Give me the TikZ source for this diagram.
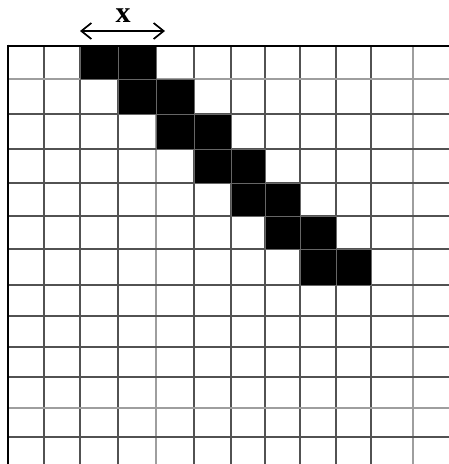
\documentclass[tikz,border=0pt]{standalone}
\usepackage{fontspec}
\setmainfont{Liberation Serif}
\usetikzlibrary{arrows.meta}

\begin{document}
\begin{tikzpicture}[
  x=1pt, y=-1pt,
  gridline/.style={line width=1.7pt,draw=black!68},
  lightline/.style={line width=1.7pt,draw=black!38},
  border/.style={line width=2.6pt,draw=black},
  cell/.style={fill=black,draw=black!60,line width=0.8pt},
  every node/.style={inner sep=0pt,font=\fontsize{30}{30}\selectfont\bfseries}
]
\useasboundingbox (0,0) rectangle (449,464);
% grid
\foreach \xx in {44,80,118,194,231,265,300,336,371}
  \draw[gridline] (\xx,46) -- (\xx,464);
\foreach \xx in {156,413}
  \draw[lightline] (\xx,46) -- (\xx,464);
\foreach \yy in {114,149,183,216,249,285,316,347,377,437}
  \draw[gridline] (8,\yy) -- (449,\yy);
\foreach \yy in {79,408}
  \draw[lightline] (8,\yy) -- (449,\yy);
% filled pixels
\foreach \xa/\xb/\xc/\ya/\yb in {80/118/156/46/79, 118/156/194/79/114, 156/194/231/114/149,
    194/231/265/149/183, 231/265/300/183/216, 265/300/336/216/249, 300/336/371/249/285}
{
  \draw[cell] (\xa,\ya) rectangle (\xb,\yb);
  \draw[cell] (\xb,\ya) rectangle (\xc,\yb);
}
\draw[border] (8,46) -- (449,46);
\draw[border] (8,44.7) -- (8,464);
% width marker
\coordinate (wl) at (80,31);
\coordinate (wr) at (165,31);
\draw[{Straight Barb[length=10pt,width=16pt]}-{Straight Barb[length=10pt,width=16pt]},line width=1.7pt] (wl) -- (wr);
\node (wlabel) at (123,16) {x};
\end{tikzpicture}
\end{document}
